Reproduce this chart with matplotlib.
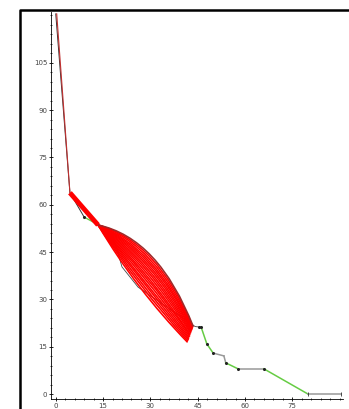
import numpy as np
import matplotlib
matplotlib.use('Agg')
import matplotlib.pyplot as plt
from matplotlib.path import Path
from matplotlib.patches import PathPatch
from matplotlib.lines import Line2D

# main route (black / green / gray pieces)
top_x = [0.3, 4.5]
top_y = [120.5, 63.8]
black_x = [0.0, 4.5, 9.0]
black_y = [120.5, 63.8, 56.1]
green1_x = [9.0, 12.5]
green1_y = [56.1, 54.2]
mid_x = [12.5, 13.4, 18.8, 21.0, 26.1, 44.2, 46.1]
mid_y = [54.2, 53.6, 47.9, 40.3, 33.9, 21.4, 21.2]
tail_x = [46.1, 47.9, 49.9, 53.3, 53.9, 57.8, 66.0, 80.0, 90.4]
tail_y = [21.2, 15.9, 13.0, 12.1, 9.9, 8.0, 8.0, 0.0, 0.0]
tail_kind = ['g', 'g', 'k', 'k', 'g', 'k', 'g', 'k']

# red bundle: common start and waist, then one arc per run
start = (4.5, 63.8)
waist = (13.4, 53.6)
end_x = [41.8, 41.9, 42.1, 42.2, 42.3, 42.5, 42.6, 42.6, 42.8, 42.9, 43.0, 43.1, 43.2, 43.3, 43.3, 43.4, 43.5, 43.6]
end_y = [16.4, 16.8, 17.1, 17.5, 17.9, 18.2, 18.6, 18.9, 19.2, 19.5, 19.8, 20.1, 20.3, 20.6, 20.8, 21.0, 21.2, 21.4]
ctrl_x = [25.6, 26.0, 26.5, 26.9, 27.4, 27.8, 28.3, 28.6, 29.0, 29.5, 29.9, 30.3, 30.7, 31.1, 31.5, 31.9, 32.3, 32.6]
ctrl_y = [33.0, 34.2, 35.2, 36.3, 37.2, 38.2, 39.1, 40.0, 41.0, 41.9, 42.8, 43.8, 44.7, 45.6, 46.5, 47.5, 48.5, 49.5]

dots_x = [9.0, 45.4, 46.1, 47.9, 49.9, 53.9, 57.8, 66.0]
dots_y = [56.1, 21.2, 21.2, 15.9, 13.0, 9.9, 8.0, 8.0]

W, H = 349, 409
fig = plt.figure(figsize=(W / 100, H / 100), dpi=100)
ax = fig.add_axes([50.7 / W, 1 - 399.3 / H, (342.8 - 50.7) / W, (399.3 - 12) / H])
ax.set_xlim(-1.6, 91)
ax.set_ylim(-1.65, 121.1)

ax.plot(black_x, black_y, color='#333333', lw=0.7, zorder=1)
ax.plot(top_x, top_y, color='#c03030', lw=0.8, zorder=2)
ax.plot(green1_x, green1_y, color='#66cc44', lw=1.0, zorder=1)
ax.plot(mid_x, mid_y, color='#444444', lw=0.6, zorder=1)
for i, k in enumerate(tail_kind):
    c = '#66cc44' if k == 'g' else '#999999'
    ax.plot(tail_x[i:i + 2], tail_y[i:i + 2], color=c, lw=1.1, zorder=1)
ax.plot(tail_x[-2:], tail_y[-2:], ls='none', marker='|', ms=3, mew=0.6, color='#333333', zorder=3)
ax.plot(dots_x, dots_y, ls='none', marker='o', ms=1.2, color='#222222', zorder=3)

# first leg of bundle
ax.plot([start[0], waist[0]], [start[1], waist[1]], color='red', lw=3.5, solid_capstyle='butt', zorder=2)
codes = [Path.MOVETO, Path.CURVE3, Path.CURVE3]
for i in range(len(end_x)):
    verts = [waist, (ctrl_x[i], ctrl_y[i]), (end_x[i], end_y[i])]
    col = '#a02828' if i == len(end_x) - 1 else 'red'
    ax.add_patch(PathPatch(Path(verts, codes), fill=False, ec=col, lw=1.15, zorder=2))

for s in ['top', 'right']:
    ax.spines[s].set_visible(False)
ax.spines['left'].set_linewidth(0.6)
ax.spines['bottom'].set_linewidth(0.6)
ax.set_xticks([0, 15, 30, 45, 60, 75])
ax.set_yticks([0, 15, 30, 45, 60, 75, 90, 105])
ax.set_xticks(np.arange(0, 91, 3), minor=True)
ax.set_yticks(np.arange(0, 121, 3), minor=True)
ax.tick_params(which='major', direction='inout', length=3, width=0.6, labelsize=5,
               labelcolor='#444444', pad=1.0)
ax.tick_params(which='minor', direction='inout', length=1.5, width=0.5)

# outer frame: only left and top edges fall inside the picture
fig.add_artist(Line2D([20 / W, 20 / W, 1.0], [0.0, 1 - 10 / H, 1 - 10 / H],
                      transform=fig.transFigure, color='black', lw=1.8))

fig.savefig('out.png', dpi=100)
